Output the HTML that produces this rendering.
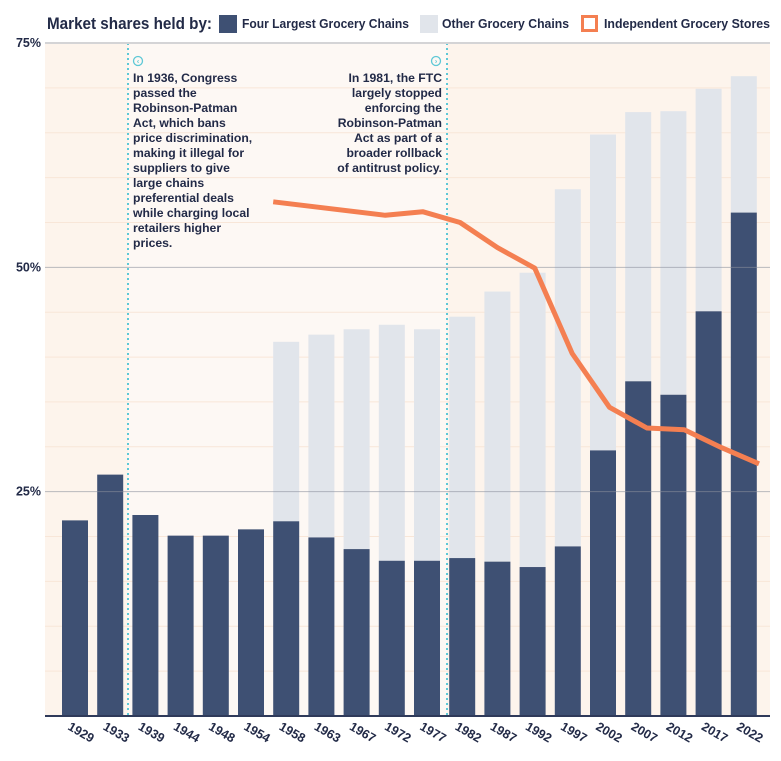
<!DOCTYPE html>
<html><head><meta charset="utf-8"><style>
html,body{margin:0;padding:0;background:#fff;}
svg{display:block;font-family:"Liberation Sans",sans-serif;}
</style></head><body>
<svg id="chart" width="781" height="761" viewBox="0 0 781 761">
<rect x="45" y="43" width="83" height="673" fill="#fdf4ec"/>
<rect x="128" y="43" width="319" height="673" fill="#fdf8f4"/>
<rect x="447" y="43" width="323" height="673" fill="#fdf4ec"/>
<g id="grid"></g>
<g id="bars"></g>
<line x1="128" y1="43" x2="128" y2="716" stroke="#5ec8d6" stroke-width="2" stroke-dasharray="2,3"/>
<line x1="447" y1="43" x2="447" y2="716" stroke="#5ec8d6" stroke-width="2" stroke-dasharray="2,3"/>
<g id="majorgrid"></g>
<path id="line" fill="none" stroke="#f47f51" stroke-width="5" stroke-linejoin="round"/>
<line x1="45" y1="716" x2="770" y2="716" stroke="#2f3a5a" stroke-width="2"/>
<g id="xlabels"></g>
<g id="ylabels"></g>
<g font-weight="bold" font-size="12.2" fill="#222a47">
<circle cx="138" cy="61" r="4.5" fill="none" stroke="#5ec8d6" stroke-width="1.3"/>
<text x="138" y="63.5" font-size="7" fill="#5ec8d6" text-anchor="middle">‹</text>
<text x="133" y="82">In 1936, Congress</text>
<text x="133" y="97">passed the</text>
<text x="133" y="112">Robinson-Patman</text>
<text x="133" y="127">Act, which bans</text>
<text x="133" y="142">price discrimination,</text>
<text x="133" y="157">making it illegal for</text>
<text x="133" y="172">suppliers to give</text>
<text x="133" y="187">large chains</text>
<text x="133" y="202">preferential deals</text>
<text x="133" y="217">while charging local</text>
<text x="133" y="232">retailers higher</text>
<text x="133" y="247">prices.</text>
</g>
<g font-weight="bold" font-size="12.2" fill="#222a47" text-anchor="end">
<circle cx="436" cy="61" r="4.5" fill="none" stroke="#5ec8d6" stroke-width="1.3"/>
<text x="436" y="63.5" font-size="7" fill="#5ec8d6" text-anchor="middle">›</text>
<text x="442" y="82">In 1981, the FTC</text>
<text x="442" y="97">largely stopped</text>
<text x="442" y="112">enforcing the</text>
<text x="442" y="127">Robinson-Patman</text>
<text x="442" y="142">Act as part of a</text>
<text x="442" y="157">broader rollback</text>
<text x="442" y="172">of antitrust policy.</text>
</g>
<g fill="#222a47" font-weight="bold">
<text x="47" y="29" font-size="17" textLength="165" lengthAdjust="spacingAndGlyphs">Market shares held by:</text>
<rect x="219" y="15" width="18" height="18" fill="#3e5073"/>
<text x="242" y="28" font-size="12.5" textLength="167" lengthAdjust="spacingAndGlyphs">Four Largest Grocery Chains</text>
<rect x="420" y="15" width="18" height="18" fill="#e1e5eb"/>
<text x="442" y="28" font-size="12.5" textLength="127" lengthAdjust="spacingAndGlyphs">Other Grocery Chains</text>
<rect x="582.5" y="16.5" width="14" height="14" fill="#fff" stroke="#f47f51" stroke-width="3"/>
<text x="604" y="28" font-size="12.5" textLength="166" lengthAdjust="spacingAndGlyphs">Independent Grocery Stores</text>
</g>
</svg>
<script>
const years = ["1929","1933","1939","1944","1948","1954","1958","1963","1967","1972","1977","1982","1987","1992","1997","2002","2007","2012","2017","2022"];
const fourLargest = [21.8,26.9,22.4,20.1,20.1,20.8,21.7,19.9,18.6,17.3,17.3,17.6,17.2,16.6,18.9,29.6,37.3,35.8,45.1,56.1];
const totalChains = [null,null,null,null,null,null,41.7,42.5,43.1,43.6,43.1,44.5,47.3,49.4,58.7,64.8,67.3,67.4,69.9,71.3];
const independent = [null,null,null,null,null,null,57.3,null,null,55.8,56.2,55.0,52.2,49.9,40.4,34.4,32.1,31.9,29.9,28.1];
const yTicks = [25,50,75];
const yTickLabels = ["25%","50%","75%"];

const NS="http://www.w3.org/2000/svg";
const y = v => 716 - v*(673/75);
const barX = i => 62 + i*35.2;
const barW = 26;
const lineX = i => 49 + i*37.37;
function mk(tag, attrs, parent){const e=document.createElementNS(NS,tag);for(const k in attrs)e.setAttribute(k,attrs[k]);parent.appendChild(e);return e;}

const grid=document.getElementById('grid');
for(let v=5; v<75; v+=5){
  if(v%25===0) continue;
  const l=mk('line',{x1:45,x2:770,y1:y(v),y2:y(v),stroke:'#f8e6d8','stroke-width':1},grid);
  
  
}
const mg=document.getElementById('majorgrid');
const yl=document.getElementById('ylabels');
yTicks.forEach((v,i)=>{
  const l=mk('line',{x1:45,x2:770,y1:y(v),y2:y(v),stroke:v===75?'#d4d4d6':'#8a8f9c','stroke-width':v===75?2:1,'stroke-opacity':v===75?1:0.6},mg);
  
  
  const t=mk('text',{x:41,y:y(v)+4,'text-anchor':'end','font-size':12.5,'font-weight':'bold',fill:'#222a47'},yl);
  t.textContent=yTickLabels[i];
  
  
});

const bars=document.getElementById('bars');
const xl=document.getElementById('xlabels');
years.forEach((yr,i)=>{
  if(totalChains[i]!=null){
    const r=mk('rect',{x:barX(i),y:y(totalChains[i]),width:barW,height:y(fourLargest[i])-y(totalChains[i]),fill:'#e1e5eb'},bars);
    
    
  }
  const b=mk('rect',{x:barX(i),y:y(fourLargest[i]),width:barW,height:716-y(fourLargest[i]),fill:'#3e5073'},bars);
  
  
  const cx=barX(i)+barW/2;
  const t=mk('text',{x:0,y:0,transform:`translate(${cx-8},${729}) rotate(30)`,'font-size':12.5,'font-weight':'bold',fill:'#222a47'},xl);
  t.textContent=yr;
  
  
});

let d='';
independent.forEach((v,i)=>{ if(v==null) return; d+=(d?'L':'M')+lineX(i).toFixed(1)+','+y(v).toFixed(1); });
document.getElementById('line').setAttribute('d',d);
</script>
</body></html>
